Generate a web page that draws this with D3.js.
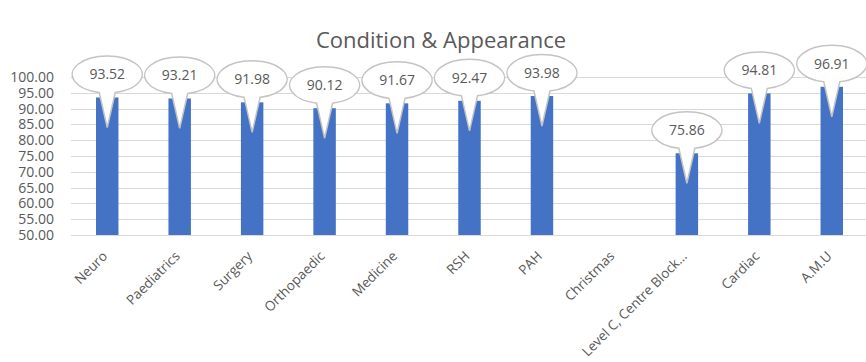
<!DOCTYPE html>
<html>
<head>
<meta charset="utf-8">
<script src="https://cdn.jsdelivr.net/npm/d3@7"></script>
<style>
  html, body { margin: 0; padding: 0; background: #ffffff; }
  svg { display: block; }
  text { font-family: "Open Sans", "Noto Sans", sans-serif; fill: #595959; }
</style>
</head>
<body>
<svg id="chart" width="866" height="362"></svg>
<script>
// Wards and their condition & appearance scores (Christmas has no score)
const categories = ["Neuro", "Paediatrics", "Surgery", "Orthopaedic", "Medicine", "RSH", "PAH",
  "Christmas", "Level C, Centre Block...", "Cardiac", "A.M.U"];
const scores = [93.52, 93.21, 91.98, 90.12, 91.67, 92.47, 93.98, null, 75.86, 94.81, 96.91];
const yTicks = [50, 55, 60, 65, 70, 75, 80, 85, 90, 95, 100];
const chartTitle = "Condition & Appearance";

const data = categories.map((c, i) => ({ category: c, value: scores[i] }));

const svg = d3.select("#chart");
const plotLeft = 71, plotRight = 868, plotTop = 77, plotBottom = 235;

const x = d3.scaleBand()
  .domain(categories)
  .range([plotLeft, plotRight])
  .paddingInner(0.69)
  .paddingOuter(0.345);

const y = d3.scaleLinear().domain([50, 100]).range([plotBottom, plotTop]);

// Title
svg.append("text")
  .attr("x", 441).attr("y", 48)
  .attr("text-anchor", "middle")
  .style("font-size", "22px")
  .text(chartTitle);

// Horizontal gridlines
svg.append("g")
  .selectAll("line")
  .data(yTicks)
  .join("line")
  .attr("x1", plotLeft).attr("x2", 866)
  .attr("y1", d => Math.round(y(d)) + 0.5)
  .attr("y2", d => Math.round(y(d)) + 0.5)
  .attr("stroke", "#d9d9d9")
  .attr("stroke-width", 1);

// Y axis labels
const yAxis = d3.axisLeft(y).tickValues(yTicks).tickFormat(d3.format(".2f")).tickSize(0).tickPadding(0);
const gy = svg.append("g").attr("transform", "translate(54,0)").call(yAxis);
gy.select(".domain").remove();
gy.selectAll("text").style("font-size", "14px").style("font-family", "\"Open Sans\", sans-serif").attr("fill", "#595959");

// Bars
const valued = data.filter(d => d.value != null);
svg.append("g")
  .selectAll("rect")
  .data(valued)
  .join("rect")
  .attr("x", d => x(d.category))
  .attr("y", d => y(d.value))
  .attr("width", x.bandwidth())
  .attr("height", d => y(50) - y(d.value))
  .attr("fill", "#4472c4");

// Callout bubbles with a tail pointing into each bar
const rx = 35, ry = 18.5, tailHalf = 8;
function callout(d) {
  const cx = x(d.category) + x.bandwidth() / 2;
  const barTop = y(d.value);
  const cy = barTop - 23;
  const dy = ry * Math.sqrt(1 - (tailHalf / rx) ** 2);
  const tipY = barTop + 30;
  return `M${cx + tailHalf},${cy + dy} A${rx},${ry} 0 1 0 ${cx - tailHalf},${cy + dy} L${cx},${tipY} Z`;
}
const bubbles = svg.append("g").selectAll("g").data(valued).join("g");
bubbles.append("path")
  .attr("d", callout)
  .attr("fill", "#ffffff")
  .attr("stroke", "#c4c4c4")
  .attr("stroke-width", 1.5);
bubbles.append("text")
  .attr("x", d => x(d.category) + x.bandwidth() / 2)
  .attr("y", d => y(d.value) - 23)
  .attr("dy", "0.35em")
  .attr("text-anchor", "middle")
  .style("font-size", "14px")
  .text(d => d3.format(".2f")(d.value));

// Category labels, rotated
const gx = svg.append("g").attr("transform", `translate(0,${plotBottom})`)
  .call(d3.axisBottom(x).tickSize(0).tickPadding(0));
gx.select(".domain").remove();
gx.selectAll("text")
  .style("font-size", "13.5px")
  .style("font-family", "\"Open Sans\", sans-serif")
  .attr("fill", "#595959")
  .attr("text-anchor", "end")
  .attr("y", 0)
  .attr("dy", "0")
  .attr("transform", "translate(1,22) rotate(-45)");
</script>
</body>
</html>
